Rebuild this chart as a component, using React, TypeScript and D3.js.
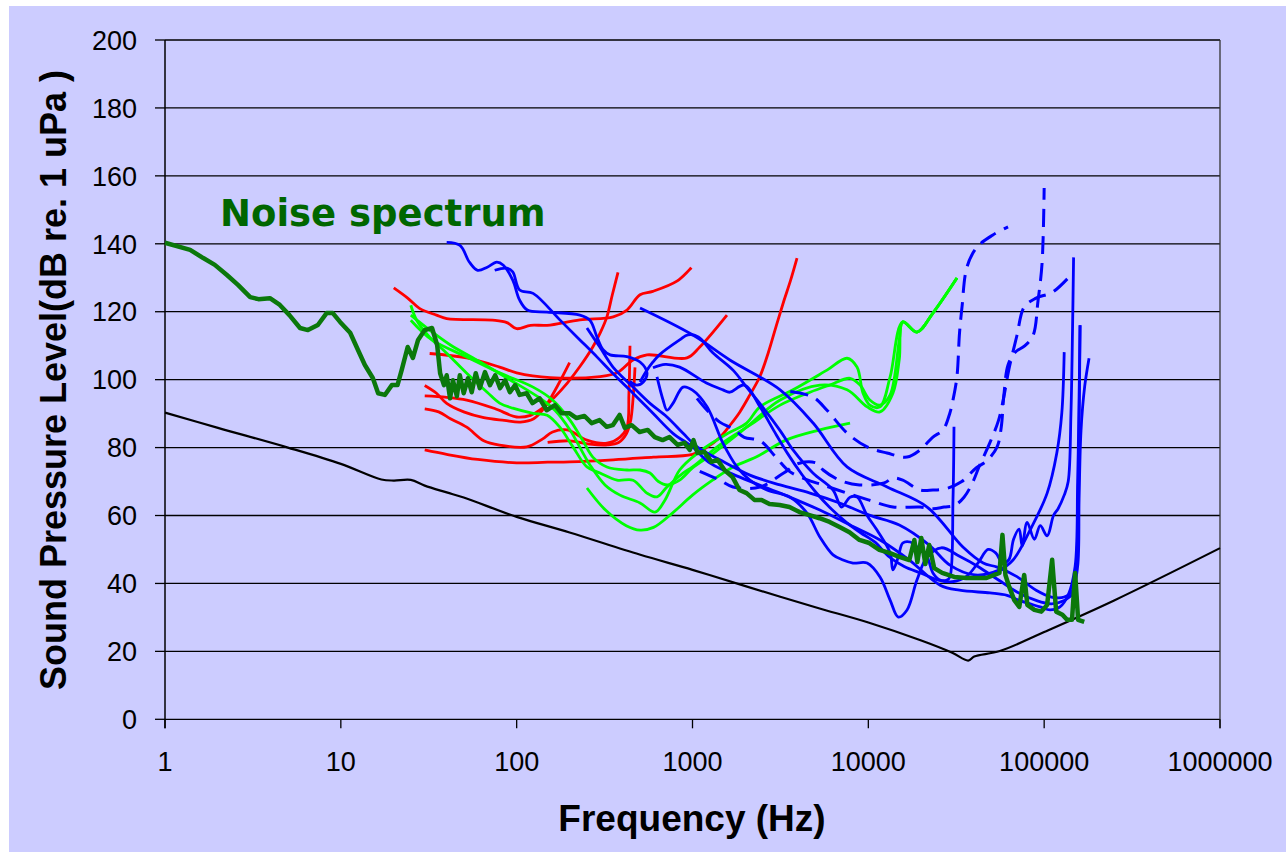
import React from "react";
import * as d3 from "d3";

type Pt = [number, number];

const width = 1286;
const height = 852;
const plot = { left: 165, right: 1220, top: 40, bottom: 719.3 };

const freqTicks = [1, 10, 100, 1000, 10000, 100000, 1000000];
const dbTicks = [0, 20, 40, 60, 80, 100, 120, 140, 160, 180, 200];

// minimum ambient reference line
const blackLimit: Pt[] = [[1,90.3],[2,85.8],[5,80],[10,75.2],[17,70.6],[20,70.3],[25,70.5],[30,68.8],[40,66.8],[50,65.3],[100,59.6],[200,55],[500,48.5],[1000,44],[2000,39.2],[5000,33],[10000,28.5],[20000,23.2],[30000,19.6],[37000,17.3],[40000,18.5],[56000,20.1],[100000,25.7],[250000,35],[1000000,50.4]];

// noise spectrum (dark green)
const noise: Pt[] = [[1,140.3],[1.39,138.2],[1.65,135.8],[1.92,133.8],[2.25,130.8],[2.6,127.9],[3.05,124.3],[3.4,123.7],[3.95,124],[4.5,122],[5.1,119],[5.86,115.2],[6.5,114.6],[7.4,116.1],[8.3,119.6],[9,119.6],[9.9,117],[11.3,113.8],[12.5,108.8],[13.7,104.3],[15.2,100.5],[16.3,96],[17.8,95.5],[19.5,98.4],[21,98.4],[22.2,102.9],[24,109.6],[25.7,106.4],[27.5,111.7],[30,114.6],[33,115.2],[35.3,110.2],[36.7,101.9],[38.6,98.4],[40,101.3],[41.8,94.5],[43.4,99.8],[45.7,95.1],[47.5,101.3],[50,96],[52.8,100.4],[55.5,96.3],[58.5,101.9],[61.7,97.5],[66,102.2],[70.5,98.4],[75.5,101.3],[80.5,97.5],[86,99.8],[91.5,96.3],[98,98.4],[104,95.5],[114,96],[123,93.1],[135,94.5],[148,91],[165,92.5],[180,90.1],[200,90.1],[219,88.7],[243,89.3],[267,87.2],[296,88.1],[325,86.1],[352,86.6],[385,89.6],[412,85.8],[451,86.6],[500,84.6],[556,85.2],[610,83.1],[676,82.2],[740,83.1],[823,80.8],[901,81.4],[965,79.3],[1013,82.2],[1068,78.4],[1170,78.7],[1282,75.8],[1387,76.4],[1520,73.4],[1690,71.3],[1850,67.5],[2030,66.6],[2250,64.6],[2470,64.6],[2740,63.4],[3130,63.1],[3560,62.5],[4060,61],[4630,60.1],[5280,59.2],[6020,58.1],[6860,56.6],[7810,55.1],[8900,52.8],[10130,51.9],[11550,49.9],[13170,49],[15010,47.8],[17110,46.9],[18270,52.8],[19000,46.3],[20000,53.4],[21100,45.7],[22200,51.3],[23700,44.5],[26300,43.1],[30800,41.9],[36100,41.6],[41200,41.6],[47000,41.6],[52000,42.5],[55700,43.1],[57900,54.3],[60200,42.5],[63300,39],[67600,35.1],[72200,33.1],[77000,42.5],[80200,33.7],[88000,32.2],[96400,31.7],[104000,33.7],[111000,47],[117000,31.7],[127000,30.8],[135000,29.3],[144000,29.3],[150000,43.1],[156000,29.3],[169000,28.7]];

// red audiograms
const red1: Pt[] = [[20,127],[24,124],[28,121],[35,119],[40,118],[73,117.5],[88,116.8],[100,115],[120,116],[149,116],[229,117.6],[354,118.5],[424,120.5],[503,125],[595,126],[815,129],[985,133]];
const red2: Pt[] = [[32,107.7],[52,106.4],[80,103.7],[100,102],[155,100.6],[298,100.9],[372,102],[459,105.8],[551,107.3],[930,106.4],[1100,109.6],[1570,119]];
const red3: Pt[] = [[30,95.2],[40,94.8],[52,94],[75,91.5],[100,89],[120,89.5],[135,91],[165,95],[194,99],[230,104],[271,109.6],[300,114],[326,118.5],[350,125],[377,131.6]];
const red4: Pt[] = [[30,79.3],[40,78],[60,76.5],[100,75.5],[150,75.7],[200,75.8],[354,76.4],[600,77.2],[1000,78],[1200,80],[1430,83],[1630,86.5],[1860,90.5],[2120,95.5],[2420,101],[2700,108],[3000,116],[3300,123],[3600,129],[3930,135.8]];
const red5: Pt[] = [[30,91.4],[36,90.5],[42,88.5],[52,86],[65,82],[80,80.7],[114,80.2],[140,82.5],[160,84.6],[194,85.2],[251,82.2],[326,81.3],[387,83.1],[424,86],[435,96],[441,110]];
const red6: Pt[] = [[30,98.3],[35,96],[40,93],[50,90.5],[65,88.8],[85,88],[105,87.5],[125,88.5],[145,92],[170,98],[200,105]];
const red7: Pt[] = [[150,81.5],[200,82],[260,81],[330,80.8],[380,81.5],[420,84],[445,88],[460,95],[471,103.6]];

// light green audiograms
const greenA: Pt[] = [[25,121.9],[27,117.5],[32,112.5],[40,107.8],[52,101.9],[68,96.3],[80,93.1],[95,91.6],[124,90.1],[149,89.5],[176,86],[209,80.2],[251,74.3],[298,72.5],[372,70.4],[459,70.4],[551,66.6],[628,65.5],[716,68.4],[884,72.5],[1000,74.3],[1430,80.8],[2120,86.6],[3150,92.5],[4660,96.3],[6030,98.4],[7870,100.4],[8970,98.4],[10200,94],[11650,92.5],[13300,95.5],[15000,111.7],[15700,117],[18900,114],[23300,119.6],[31900,129.9]];
const greenB: Pt[] = [[25,119],[32,114.6],[42,110.2],[62,105.2],[92,99.9],[135,94.6],[165,91],[201,85.2],[261,74.9],[318,69],[387,66],[503,63.7],[612,61],[698,64.6],[845,73.4],[1070,78.4],[1590,84.2],[2030,87.2],[2420,92],[3730,97],[5820,102.8],[7570,106.3],[8620,103.7],[9330,96],[10200,92.5],[11650,92],[13300,100.8],[15700,117],[18900,114],[23300,119.6],[31900,129.9]];
const greenC: Pt[] = [[25,117.5],[33,111.7],[52,106.7],[80,102],[124,97.8],[160,94],[201,88.1],[237,82.2],[271,77.2],[326,74.3],[424,73.4],[503,73.4],[573,72.5],[640,70],[720,69],[845,70.4],[1000,74],[1320,78.4],[2030,86],[3150,94],[5300,98.4],[7570,97],[9840,92],[11650,90.5],[13800,96],[15000,106],[15700,117],[18900,114],[23300,119.6],[31900,129.9]];
const greenD: Pt[] = [[251,68.1],[320,61.6],[420,57],[503,55.7],[600,56.5],[760,60.5],[1000,66],[1300,70.4],[1700,74.3],[2300,77.2],[3400,82.2],[5300,85.2],[7870,87.2]];

// blue solid audiograms
const blue1: Pt[] = [[40,140.4],[47.6,139.5],[54,134.5],[60,132.2],[68,133.1],[77,134.6],[84,133.7],[95,129.3],[104,123.4],[115,120.5],[149,119.9],[229,119],[261,117.5],[286,112.6],[310,108.8],[340,107.3],[424,106.8],[503,105.2],[551,102],[525,99.3],[483,98.4],[440,99.5]];
const blue2: Pt[] = [[75,132.2],[88,132.8],[95,131.7],[104,126.4],[124,125.4],[176,117.6],[229,111.7],[286,106.7],[353,101.8],[459,96],[596,90.1],[774,84.2],[1000,80.2],[1259,75.4],[1860,71.3],[3150,66.6],[5300,61.6],[7870,57.2],[11650,52.8],[17110,46.9],[25600,39.5],[33000,38],[49200,37.2],[61500,36.5],[72200,35],[94700,33.1],[108000,32.2],[123000,33.1],[137000,36.6],[150000,45],[155000,70],[158000,95],[160000,116]];
const blue3: Pt[] = [[251,115.2],[297,109.6],[353,103.7],[459,97.8],[573,93],[716,89],[884,84.2],[1063,80.2],[1430,76.4],[2120,71.9],[3150,69],[4660,66.6],[6860,63.7],[10130,60.1],[15000,57.2],[22200,51.3],[29100,45.4],[40400,42.5],[55700,44],[66500,46.9],[83100,55.7],[104000,66.6],[118000,78.4],[126000,90.2],[130000,108.1]];
const blue4: Pt[] = [[503,121.1],[1000,113.2],[1630,105.8],[3150,97],[4840,87.3],[7570,74.3],[12800,68.4],[21600,62.5],[34500,50.7],[45000,46],[54000,44.8],[70000,42],[90000,38],[110000,36],[130000,36],[145000,38],[155000,45],[158000,65],[162000,85],[170000,98],[180000,106.3]];
const blue5: Pt[] = [[503,99.3],[551,102.8],[596,105.2],[648,107.3],[845,111.7],[942,113.2],[1080,112.6],[1300,108],[1700,102.8],[2030,97.8],[2500,92],[3150,85],[3730,79.3],[4840,72.5],[6300,67.5],[7050,62.5],[7870,65.4],[8640,65.4],[9840,60],[11200,55.7],[13300,49],[13800,44],[14800,47.8],[15700,51.9],[17300,52.2],[19700,49.9],[21600,47.8],[23300,43.1],[25600,41],[28000,41],[29100,41.9],[30300,64.6],[30700,86.1]];
const blue6: Pt[] = [[628,100.8],[680,94],[716,91],[774,93],[884,97.8],[1000,96.9],[1210,92],[1490,81.3],[1790,74.3],[2120,70.4],[2650,67.5],[3590,65.4],[4480,60.7],[5310,53.6],[6300,48.4],[7180,46.9],[8180,46],[9840,46],[11650,41.9],[13300,35.1],[14800,30.1],[16600,32.2],[18900,41],[21600,47.8],[26000,50.5],[33000,48],[42000,45],[55000,41],[70000,37.5],[90000,35],[110000,34],[130000,35],[145000,37],[152000,45],[156000,60],[158000,85],[160000,116]];
const blue7: Pt[] = [[596,103.5],[700,104.5],[845,103.7],[1200,99],[1490,97],[1630,96.3],[1970,98.4],[2420,92],[2900,85],[3500,78],[4200,72],[5000,67],[6000,62.5],[7500,58],[9000,55],[11000,52],[13000,48],[16000,45],[20000,43],[25000,41],[30000,40.5],[36000,42],[42000,46],[48000,50],[53000,49],[58000,46],[63000,47],[67000,53],[72000,56],[75000,51],[80000,58],[88000,53],[95000,57],[104000,54],[113000,60],[120000,62],[130000,66],[137000,70],[142000,90],[145000,115],[147000,136]];

// blue dashed audiograms
const dash1: Pt[] = [[3600,96.5],[4840,94.9],[5820,91],[7560,84.3],[9840,80.2],[12770,78.4],[16600,77.2],[19700,79.3],[23300,83.1],[26600,85.2],[29100,90.2],[30300,94],[31900,100.8],[33000,113.7],[34100,121.4],[36400,133.2],[41500,139],[51100,142.6],[62300,145]];
const dash2: Pt[] = [[1100,73],[1430,70.4],[1700,68.4],[2420,68.4],[3300,72.5],[4060,75.4],[5100,75.4],[5530,73.4],[6860,70.4],[8900,69],[12300,69.6],[13800,71],[15700,70.4],[19700,67.5],[23300,67.5],[28000,68],[34000,70],[41000,74],[47000,76],[54000,80.2],[57000,86],[59000,95.4],[62300,104.3],[68200,108],[77800,110],[86500,113],[92300,123.3],[97300,134.3],[100000,156.4]];
const dash3: Pt[] = [[1060,94.5],[1210,91],[1430,87.5],[1700,85.5],[1970,83],[2420,82],[3000,77],[3560,73],[4500,70.5],[5500,69],[7560,66.6],[10000,64.6],[13800,62.5],[19700,62.5],[23300,62],[27000,62.5],[31000,63],[35000,65.4],[39000,69.5],[43000,74.8],[49000,81.3],[55000,88],[59000,95],[63000,103],[70000,113],[77000,121.4],[90000,124],[112000,125.8],[146000,131.5]];

const redSeries = [red1, red2, red3, red4, red5, red6, red7];
const greenSeries = [greenA, greenB, greenC, greenD];
const blueSeries = [blue1, blue2, blue3, blue4, blue5, blue6, blue7];
const dashedSeries = [dash1, dash2, dash3];

const x = d3.scaleLog().domain([1, 1000000]).range([plot.left, plot.right]);
const y = d3.scaleLinear().domain([0, 200]).range([plot.bottom, plot.top]);

const smooth = d3
  .line<Pt>()
  .x((d) => x(d[0]))
  .y((d) => y(d[1]))
  .curve(d3.curveCatmullRom.alpha(0.5));

const jagged = d3
  .line<Pt>()
  .x((d) => x(d[0]))
  .y((d) => y(d[1]));

const App: React.FC = () => {
  return (
    <svg
      width={width}
      height={height}
      style={{ position: "absolute", left: 0, top: 0 }}
      fontFamily="'Liberation Sans', Arial, sans-serif"
    >
      <rect x={0} y={0} width={width} height={height} fill="#ffffff" />
      <rect x={9} y={6} width={width - 9} height={height - 6} fill="#ccccff" />

      {/* grid lines */}
      {dbTicks.map((t) => (
        <line
          key={"g" + t}
          x1={plot.left}
          x2={plot.right}
          y1={y(t)}
          y2={y(t)}
          stroke="#000"
          strokeWidth={1.3}
        />
      ))}
      <line x1={plot.right} x2={plot.right} y1={plot.top} y2={plot.bottom + 9} stroke="#333" strokeWidth={1.3} />
      <line x1={plot.left} x2={plot.left} y1={plot.top} y2={plot.bottom + 9} stroke="#000" strokeWidth={1.5} />

      {/* y ticks */}
      {dbTicks.map((t) => (
        <g key={"y" + t}>
          <line x1={plot.left - 10} x2={plot.left} y1={y(t)} y2={y(t)} stroke="#000" strokeWidth={1.3} />
          <text x={137} y={y(t)} dy="0.36em" textAnchor="end" fontSize={27} fill="#000">
            {t}
          </text>
        </g>
      ))}

      {/* x ticks */}
      {freqTicks.map((t) => (
        <g key={"x" + t}>
          <line x1={x(t)} x2={x(t)} y1={plot.bottom} y2={plot.bottom + 9} stroke="#000" strokeWidth={1.3} />
          <text x={x(t)} y={771} textAnchor="middle" fontSize={27} fill="#000">
            {t}
          </text>
        </g>
      ))}

      {/* series */}
      <path d={smooth(blackLimit) || ""} fill="none" stroke="#000" strokeWidth={2.2} />
      {redSeries.map((s, i) => (
        <path key={"r" + i} d={smooth(s) || ""} fill="none" stroke="#ff0000" strokeWidth={2.8} />
      ))}
      {greenSeries.map((s, i) => (
        <path key={"l" + i} d={smooth(s) || ""} fill="none" stroke="#00ff00" strokeWidth={2.8} />
      ))}
      {blueSeries.map((s, i) => (
        <path key={"b" + i} d={smooth(s) || ""} fill="none" stroke="#0000ff" strokeWidth={2.8} />
      ))}
      {dashedSeries.map((s, i) => (
        <path
          key={"d" + i}
          d={smooth(s) || ""}
          fill="none"
          stroke="#0000ff"
          strokeWidth={3}
          strokeDasharray="18 9"
        />
      ))}
      <path d={jagged(noise) || ""} fill="none" stroke="#0b780b" strokeWidth={4.5} strokeLinejoin="round" />

      <text x={220} y={226} fontFamily="'DejaVu Sans', Verdana, sans-serif" fontWeight="bold" fontSize={37} fill="#006600">
        Noise spectrum
      </text>

      {/* axis titles */}
      <text x={692} y={831} textAnchor="middle" fontWeight="bold" fontSize={37} fill="#000">
        Frequency (Hz)
      </text>
      <text
        transform="translate(66,380) rotate(-90)"
        textAnchor="middle"
        fontWeight="bold"
        fontSize={36}
        fill="#000"
      >
        Sound Pressure Level(dB re. 1 uPa )
      </text>
    </svg>
  );
};

export default App;
